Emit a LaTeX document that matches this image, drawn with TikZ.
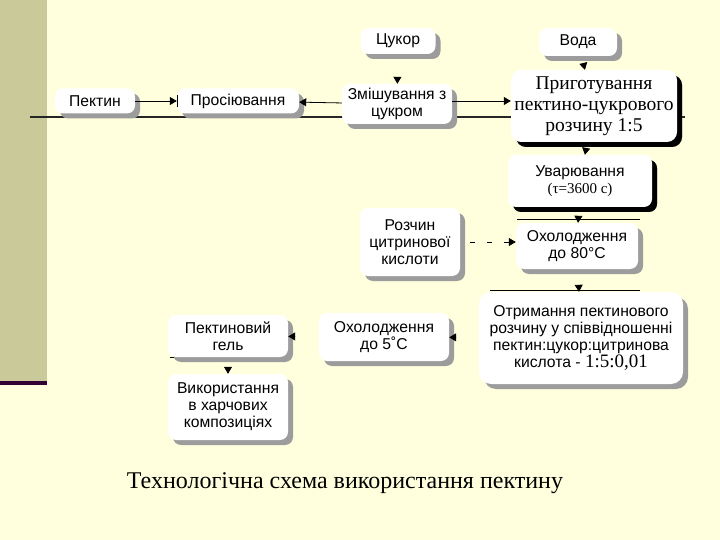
\documentclass[tikz,border=0pt]{standalone}
\usepackage{fontspec}
\setmainfont{Liberation Serif}
\setsansfont{Liberation Sans}
\usetikzlibrary{arrows.meta,shadows}
\definecolor{bgyellow}{HTML}{FFFFDE}
\definecolor{stripcol}{HTML}{C9C99A}
\definecolor{stripline}{HTML}{330033}
\definecolor{shadowgray}{HTML}{9C9C9C}
\tikzset{
  box/.style={fill=white, rounded corners=8pt, align=center, inner sep=2pt,
    font=\sffamily\fontsize{15.7}{17}\selectfont,
    drop shadow={shadow xshift=5pt, shadow yshift=-5pt, fill=shadowgray, opacity=1}},
  darkbox/.style={box,
    drop shadow={shadow xshift=5pt, shadow yshift=-5pt, fill=black, opacity=1}},
  arr/.style={-{Triangle[length=7pt,width=8pt]}, line width=0.8pt},
  headonly/.style={arr, shorten <=#1},
  artline/.style={line width=0.8pt, black},
}
\begin{document}
\begin{tikzpicture}[x=1pt,y=-1pt]
\useasboundingbox (0,0) rectangle (720,540);
\fill[bgyellow] (0,0) rectangle (720,540);
\fill[stripcol] (0,0) rectangle (47,381);
\fill[stripline] (0,381) rectangle (47,385);
% slide lines
\draw[line width=1.6pt, black!85] (30,117) -- (685,117);
\draw[artline] (193,90) -- (288,90);
\draw[artline] (517,219) -- (640,219);
\draw[artline] (490,290) -- (640,290);
\draw[artline] (170,357) -- (268,357);
\draw[artline] (640,386) -- (680,386);
% nodes
\node[box, minimum width=80pt, minimum height=25pt] (pektin) at (95,101) {Пектин};
\node[box, minimum width=122pt, minimum height=25pt] (prosiy) at (238,101) {Просіювання};
\node[box, minimum width=75pt, minimum height=26pt] (cukor) at (398,41) {Цукор};
\node[box, minimum width=78pt, minimum height=28pt] (voda) at (578,42) {Вода};
\node[box, minimum width=110pt, minimum height=40pt] (zmish) at (397,104) {Змішування з\\цукром};
\node[darkbox, rounded corners=10pt, minimum width=166pt, minimum height=72pt,
  font=\rmfamily\fontsize{19.5}{21}\selectfont] (pryg) at (594,106)
  {Приготування\\пектино-цукрового\\розчину 1:5};
\node[darkbox, minimum width=144pt, minimum height=52pt] (uvar) at (580,181)
  {Уварювання\\{\rmfamily\fontsize{15}{18}\selectfont (τ=3600 с)}};
\node[box, minimum width=100pt, minimum height=68pt] (rozch) at (410,242)
  {Розчин\\цитринової\\кислоти};
\node[box, minimum width=122pt, minimum height=46pt] (oh80) at (577,246)
  {Охолодження\\до 80°C};
\node[box, rounded corners=12pt, minimum width=204pt, minimum height=92pt] (otrym) at (581,338)
  {Отримання пектинового\\розчину у співвідношенні\\пектин:цукор:цитринова\\кислота - {\rmfamily\fontsize{19}{17}\selectfont 1:5:0,01}};
\node[box, minimum width=130pt, minimum height=48pt] (oh5) at (384,337)
  {Охолодження\\до 5˚С};
\node[box, minimum width=120pt, minimum height=42pt] (gel) at (228,336)
  {Пектиновий\\гель};
\node[box, minimum width=120pt, minimum height=66pt] (vykor) at (228,407)
  {Використання\\в харчових\\композиціях};
% connectors
\draw[arr] (pektin) -- (prosiy);
\draw[line width=0.8pt] ([xshift=1pt]prosiy.west) ++(0,-6) -- ++(0,12);
\draw[arr] (zmish) -- (prosiy);
\draw[headonly=23pt] (cukor) -- (zmish);
\draw[headonly=7pt] (voda) -- (pryg);
\draw[arr] (zmish.east |- 0,101) -- (pryg.west |- 0,101);
\draw[headonly=6pt] (pryg) -- (uvar);
\draw[headonly=9pt] (uvar) -- (oh80);
\draw[arr, dash pattern=on 5pt off 12pt] ([xshift=10pt]rozch.east |- 0,242) -- (oh80.west |- 0,242);
\draw[headonly=16pt] (oh80) -- (otrym);
\draw[headonly=23pt] (otrym) -- (oh5);
\draw[headonly=24pt] (oh5) -- (gel);
\draw[headonly=10pt] (gel) -- (vykor);
% caption
\node[font=\rmfamily\fontsize{24}{26}\selectfont] (caption) at (345,483)
  {Технологічна схема використання пектину};
\end{tikzpicture}
\end{document}
